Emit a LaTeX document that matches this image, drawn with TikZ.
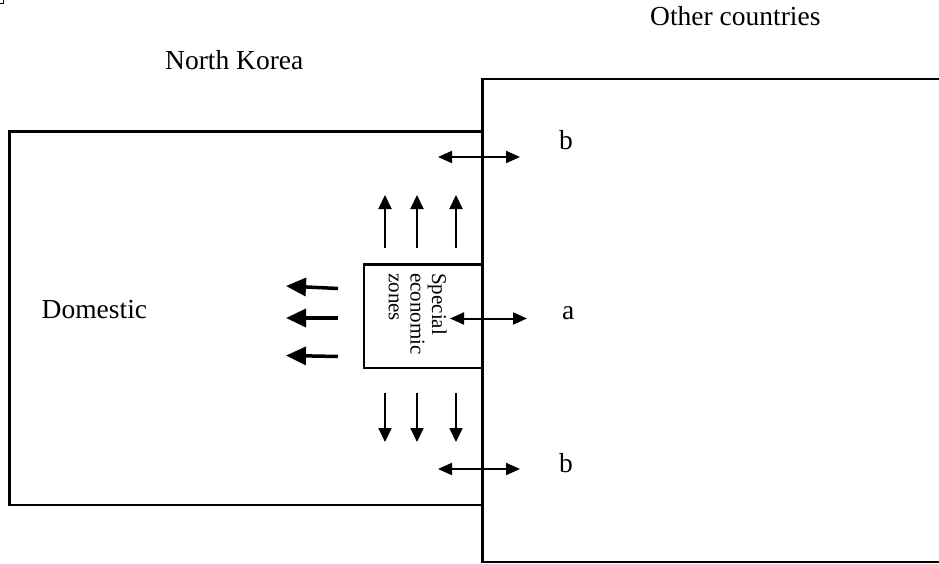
\documentclass[tikz,border=0pt]{standalone}
\usepackage{fontspec}
\setmainfont{Liberation Serif}
\usetikzlibrary{arrows.meta}
\begin{document}
\begin{tikzpicture}[x=1pt,y=-1pt,
  box/.style={line width=2.2pt},
  lbl/.style={font=\fontsize{27.5}{33}\selectfont, inner sep=0pt, anchor=base west},
  thinarrow/.style={line width=2pt, -{Triangle[length=14pt,width=13pt]}},
  dblarrow/.style={line width=2pt, {Triangle[length=14pt,width=12pt]}-{Triangle[length=14pt,width=12pt]}},
  thickarrow/.style={line width=3.5pt, -{Triangle[length=20pt,width=18pt]}}]
\useasboundingbox (0,0) rectangle (939,564);
% tiny corner mark
\draw[line width=1.3pt] (0,3.3) -- (3.3,3.3) -- (3.3,0);
% boxes
\draw[box] (939,79) -| (482.5,562) -- (939,562);
\draw[box] (482.5,131.5) -| (9.5,505) -- (482.5,505);
\draw[box] (482.5,264.5) -| (364,368) -- (482.5,368);
% labels
\node[lbl] (other) at (650,26) {Other countries};
\node[lbl] (nk) at (165,70) {North Korea};
\node[lbl] (dom) at (41.5,318) {Domestic};
\node[lbl] (btop) at (559,150) {b};
\node[lbl] (a) at (562,319) {a};
\node[lbl] (bbot) at (559,472) {b};
\node[rotate=-90, anchor=north west, inner sep=0pt, text width=100pt, align=left,
      font=\fontsize{21}{21.7}\selectfont] (sez) at (447,273) {Special\\economic\\zones};
% arrow coordinates
\coordinate (u1s) at (385,248); \coordinate (u1e) at (385,195);
\coordinate (u2s) at (417,248); \coordinate (u2e) at (417,195);
\coordinate (u3s) at (456,248); \coordinate (u3e) at (456,195);
\coordinate (d1s) at (385,393); \coordinate (d1e) at (385,442);
\coordinate (d2s) at (417,393); \coordinate (d2e) at (417,442);
\coordinate (d3s) at (456,393); \coordinate (d3e) at (456,442);
\coordinate (l1s) at (338,288.5); \coordinate (l1e) at (286,286);
\coordinate (l2s) at (338,318); \coordinate (l2e) at (286,318);
\coordinate (l3s) at (338,356.5); \coordinate (l3e) at (286,355.5);
\coordinate (as) at (450,318.5); \coordinate (ae) at (527,318.5);
\coordinate (bts) at (438,157); \coordinate (bte) at (520,157);
\coordinate (bbs) at (438,469); \coordinate (bbe) at (520,469);
% arrows
\foreach \n in {u1,u2,u3,d1,d2,d3} \draw[thinarrow] (\n s) -- (\n e);
\foreach \n in {l1,l2,l3} \draw[thickarrow] (\n s) -- (\n e);
\draw[dblarrow] (as) -- (ae);
\draw[dblarrow] (bts) -- (bte);
\draw[dblarrow] (bbs) -- (bbe);
\end{tikzpicture}
\end{document}
